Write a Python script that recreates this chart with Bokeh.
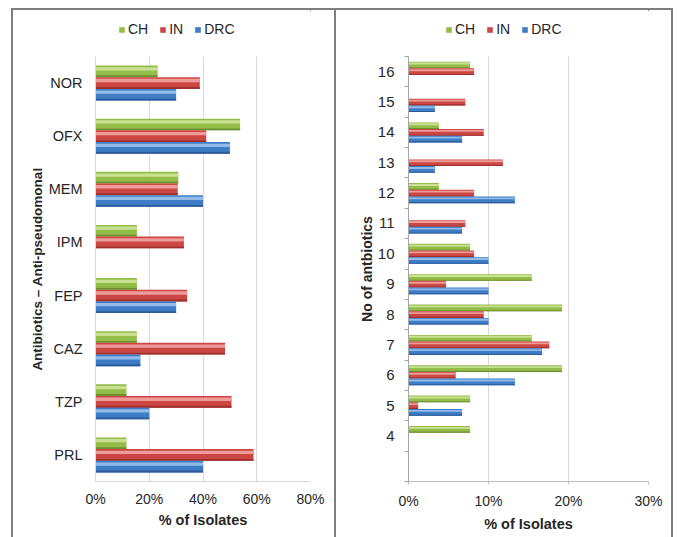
from bokeh.plotting import figure
from bokeh.models import (FactorRange, Range1d, FixedTicker, PrintfTickFormatter,
                          Legend, LegendItem, ColumnDataSource, Div, Spacer)
from bokeh.transform import dodge
from bokeh.layouts import row, column
from bokeh.embed import file_html
from bokeh.resources import INLINE

# ---------------- data ----------------
antibiotics = ["NOR", "OFX", "MEM", "IPM", "FEP", "CAZ", "TZP", "PRL"]
ab_ch = [23.1, 53.8, 30.8, 15.4, 15.4, 15.4, 11.5, 11.5]
ab_in = [38.8, 41.2, 30.6, 32.9, 34.1, 48.2, 50.6, 58.8]
ab_drc = [30.0, 50.0, 40.0, 0.0, 30.0, 16.7, 20.0, 40.0]
ab_ticks = [0, 20, 40, 60, 80]

n_antibiotics = [4, 5, 6, 7, 8, 9, 10, 11, 12, 13, 14, 15, 16]
n_ch = [7.7, 7.7, 19.2, 15.4, 19.2, 15.4, 7.7, 0.0, 3.8, 0.0, 3.8, 0.0, 7.7]
n_in = [0.0, 1.2, 5.9, 17.6, 9.4, 4.7, 8.2, 7.1, 8.2, 11.8, 9.4, 7.1, 8.2]
n_drc = [0.0, 6.7, 13.3, 16.7, 10.0, 10.0, 10.0, 6.7, 13.3, 3.3, 6.7, 3.3, 0.0]
n_ticks = [0, 10, 20, 30]

series = ["CH", "IN", "DRC"]
main_colors = ["#93BC48", "#CC4744", "#3F7CC6"]
light_colors = ["#C9E192", "#EE9B99", "#92BBEA"]
edge_colors = ["#6F9030", "#9E302E", "#2C5D9A"]

FONT = "Liberation Sans"
TXT = "#262626"
GRID = "#d9d9d9"
LINE = "#7f7f7f"
BAR_H = 0.22
W1, W2, H = 321, 335, 527
LEG_H = 46
PH = H - LEG_H


def style_common(p):
    p.outline_line_color = None
    p.background_fill_color = "white"
    p.border_fill_color = "white"
    for ax in (p.xaxis, p.yaxis):
        ax.major_label_text_font = FONT
        ax.major_label_text_color = TXT
        ax.axis_label_text_font = FONT
        ax.axis_label_text_font_style = "bold"
        ax.axis_label_text_color = TXT
        ax.minor_tick_line_color = None


def add_bars(p, src, ycol, keys, yrange):
    offs = [BAR_H, 0.0, -BAR_H]
    for k, off, mc, lc, ec in zip(keys, offs, main_colors, light_colors, edge_colors):
        p.hbar(y=dodge(ycol, off, range=yrange), left=0, right=k, height=BAR_H,
               source=src, fill_color=mc, line_color=None)
        p.hbar(y=dodge(ycol, off + BAR_H * 0.22, range=yrange), left=0, right=k,
               height=BAR_H * 0.28, source=src, fill_color=lc, line_color=None)
        p.hbar(y=dodge(ycol, off - BAR_H * 0.42, range=yrange), left=0, right=k,
               height=BAR_H * 0.16, source=src, fill_color=ec, line_color=None)


def legend_fig(width, src, xoff):
    # strip above a chart that only carries its legend (frame aligned with the chart)
    lf = figure(width=width, height=LEG_H, x_range=Range1d(0, 1), y_range=Range1d(0, 1),
                output_backend="svg", toolbar_location=None,
                x_axis_location=None, y_axis_location=None,
                min_border_left=0, min_border_right=0, min_border_top=0,
                min_border_bottom=0)
    lf.outline_line_color = None
    lf.grid.visible = False
    items = []
    for s, mc in zip(series, main_colors):
        # zero-size bars from the real data, only used as legend glyph carriers
        r = lf.hbar(y=s, left=s, right=s, height=0, source=src,
                    fill_color=mc, line_color=None)
        items.append(LegendItem(label=s, renderers=[r]))
    leg = Legend(items=items, orientation="horizontal", location=(xoff, 19),
                 margin=0, padding=0, spacing=11, label_standoff=3, label_width=1,
                 glyph_width=7, glyph_height=7, border_line_color=None,
                 background_fill_alpha=0, label_text_font=FONT,
                 label_text_font_size="14px", label_text_color=TXT)
    lf.add_layout(leg, "center")
    return lf


# ---------------- left chart ----------------
src1 = ColumnDataSource(dict(cat=antibiotics, CH=ab_ch, IN=ab_in, DRC=ab_drc))
p1 = figure(width=W1, height=PH,
            y_range=FactorRange(factors=antibiotics[::-1], range_padding=0),
            x_range=Range1d(0, 80), output_backend="svg", toolbar_location=None,
            min_border_left=82, min_border_right=24, min_border_top=0,
            min_border_bottom=56)
style_common(p1)
add_bars(p1, src1, "cat", series, p1.y_range)
p1.ygrid.visible = False
p1.xgrid.ticker = FixedTicker(ticks=ab_ticks[1:])
p1.xgrid.grid_line_color = GRID
p1.xaxis.ticker = FixedTicker(ticks=ab_ticks)
p1.xaxis.formatter = PrintfTickFormatter(format="%d%%")
p1.xaxis.axis_line_color = GRID
p1.xaxis.major_tick_line_color = None
p1.xaxis.major_tick_out = 0
p1.xaxis.major_label_standoff = 9
p1.xaxis.major_label_text_font_size = "14px"
p1.xaxis.axis_label = "% of Isolates"
p1.xaxis.axis_label_text_font_size = "14.5px"
p1.xaxis.axis_label_standoff = 2
p1.yaxis.axis_line_color = GRID
p1.yaxis.major_tick_line_color = None
p1.yaxis.major_tick_out = 0
p1.yaxis.major_label_standoff = 13
p1.yaxis.major_label_text_font_size = "14.5px"
p1.yaxis.axis_label = "Antibiotics \u2013 Anti-pseudomonal"
p1.yaxis.axis_label_text_font_size = "13.5px"
p1.yaxis.axis_label_standoff = 1

# ---------------- right chart ----------------
src2 = ColumnDataSource(dict(n=n_antibiotics, CH=n_ch, IN=n_in, DRC=n_drc))
p2 = figure(width=W2, height=PH, y_range=Range1d(2.5, 16.5), x_range=Range1d(0, 30),
            output_backend="svg", toolbar_location=None,
            min_border_left=72, min_border_right=23, min_border_top=0,
            min_border_bottom=56)
style_common(p2)
add_bars(p2, src2, "n", series, p2.y_range)
p2.ygrid.visible = False
p2.xgrid.ticker = FixedTicker(ticks=n_ticks[1:])
p2.xgrid.grid_line_color = GRID
p2.xaxis.ticker = FixedTicker(ticks=n_ticks)
p2.xaxis.formatter = PrintfTickFormatter(format="%d%%")
p2.xaxis.axis_line_color = "#bfbfbf"
p2.xaxis.major_tick_line_color = "#bfbfbf"
p2.xaxis.major_tick_in = 0
p2.xaxis.major_tick_out = 3
p2.xaxis.major_label_standoff = 8
p2.xaxis.major_label_text_font_size = "14px"
p2.xaxis.axis_label = "% of Isolates"
p2.xaxis.axis_label_text_font_size = "14.5px"
p2.xaxis.axis_label_standoff = 4
bounds = [v + 0.5 for v in range(2, 17)]
p2.yaxis.ticker = FixedTicker(ticks=n_antibiotics, minor_ticks=bounds)
p2.yaxis.axis_line_color = "#a6a6a6"
p2.yaxis.major_tick_line_color = None
p2.yaxis.major_tick_out = 0
p2.yaxis.minor_tick_line_color = "#a6a6a6"
p2.yaxis.minor_tick_in = 0
p2.yaxis.minor_tick_out = 4
p2.yaxis.major_label_standoff = 10
p2.yaxis.major_label_text_font_size = "15px"
p2.yaxis.axis_label = "No of antbiotics"
p2.yaxis.axis_label_text_font_size = "14px"
p2.yaxis.axis_label_standoff = 0


# ---------------- frame lines ----------------
def vline():
    return Div(text="", width=2, height=H, margin=0,
               styles={"background-color": LINE})


top_line = Div(text="", width=W1 + W2 + 6, height=2, margin=0,
               styles={"background-color": LINE})
layout = column(
    Spacer(width=10, height=8, margin=0),
    row(Spacer(width=11, height=2, margin=0), top_line, spacing=0),
    row(Spacer(width=11, height=H, margin=0), vline(),
        column(legend_fig(W1, src1, 23), p1, spacing=0), vline(),
        column(legend_fig(W2, src2, 37), p2, spacing=0), vline(), spacing=0),
    spacing=0,
)
open("out.html", "w").write(file_html(layout, INLINE))
